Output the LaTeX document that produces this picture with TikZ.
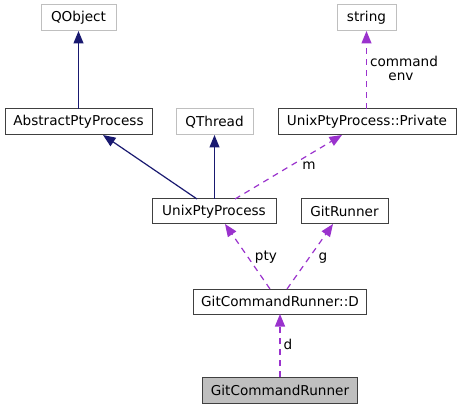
\documentclass[tikz,border=0pt]{standalone}
\usepackage{fontspec}
\setmainfont{DejaVu Sans}
\usetikzlibrary{arrows.meta,calc}
\definecolor{navy}{HTML}{191970}
\definecolor{orchid}{HTML}{9A32CD}
\definecolor{lgray}{HTML}{BFBFBF}
\definecolor{dgray}{HTML}{404040}
\begin{document}
\begin{tikzpicture}[x=1pt,y=-1pt,
  font=\fontsize{13.6}{16}\selectfont,
  cls/.style={draw=dgray,line width=1pt,rectangle,inner sep=0pt,outer sep=0pt,minimum height=25pt,text=black},
  ext/.style={cls,draw=lgray},
  cur/.style={cls,fill=lgray},
  inh/.style={navy,line width=1.2pt,-{Triangle[length=12.5pt,width=10pt]}},
  use/.style={orchid,line width=1.2pt,dash pattern=on 6pt off 5pt,-{Triangle[length=12.5pt,width=10pt]}},
  lab/.style={anchor=base,inner sep=0pt,text=black}]
\useasboundingbox (0,0) rectangle (461,409);
\node[ext,minimum width=75pt,minimum height=26pt] (qobj) at (78.5,18) {QObject};
\node[cls,minimum width=147pt,minimum height=26pt] (abs) at (78.5,122) {AbstractPtyProcess};
\node[ext,minimum width=77pt,minimum height=26pt] (qthr) at (214.5,122) {QThread};
\node[ext,minimum width=59pt,minimum height=26pt] (str) at (366.5,18) {string};
\node[cls,minimum width=178pt,minimum height=26pt] (priv) at (367,122) {UnixPtyProcess::Private};
\node[cls,minimum width=124pt] (unix) at (214,211.5) {UnixPtyProcess};
\node[cls,minimum width=87pt] (git) at (344.5,211.5) {GitRunner};
\node[cls,minimum width=173pt] (d) at (280,301.5) {GitCommandRunner::D};
\node[cur,minimum width=155pt,minimum height=26pt] (gcr) at (280,390) {GitCommandRunner};
\draw[inh] (abs.north) -- (qobj.south);
\draw[inh] ($(unix.north)+(-17,0)$) -- ($(abs.south)+(24.5,0)$);
\draw[inh] (qthr.south |- unix.north) -- (qthr.south);
\draw[use] ($(unix.north)+(21,0)$) -- ($(priv.south)+(-25,0)$);
\draw[use] (str.south |- priv.north) -- (str.south);
\draw[use] ($(d.north)+(-10,0)$) -- ($(unix.south)+(11,0)$);
\draw[use] ($(d.north)+(7,0)$) -- ($(git.south)+(-11.5,0)$);
\draw[use] (gcr.north) -- (d.south);
\node[lab] (lm) at (309,170) {m};
\node[lab] (lcmd) at (404,67) {command};
\node[lab] (lenv) at (401,81) {env};
\node[lab] (lpty) at (266,261) {pty};
\node[lab] (lg) at (323,261) {g};
\node[lab] (ld) at (288,349) {d};
\end{tikzpicture}
\end{document}
